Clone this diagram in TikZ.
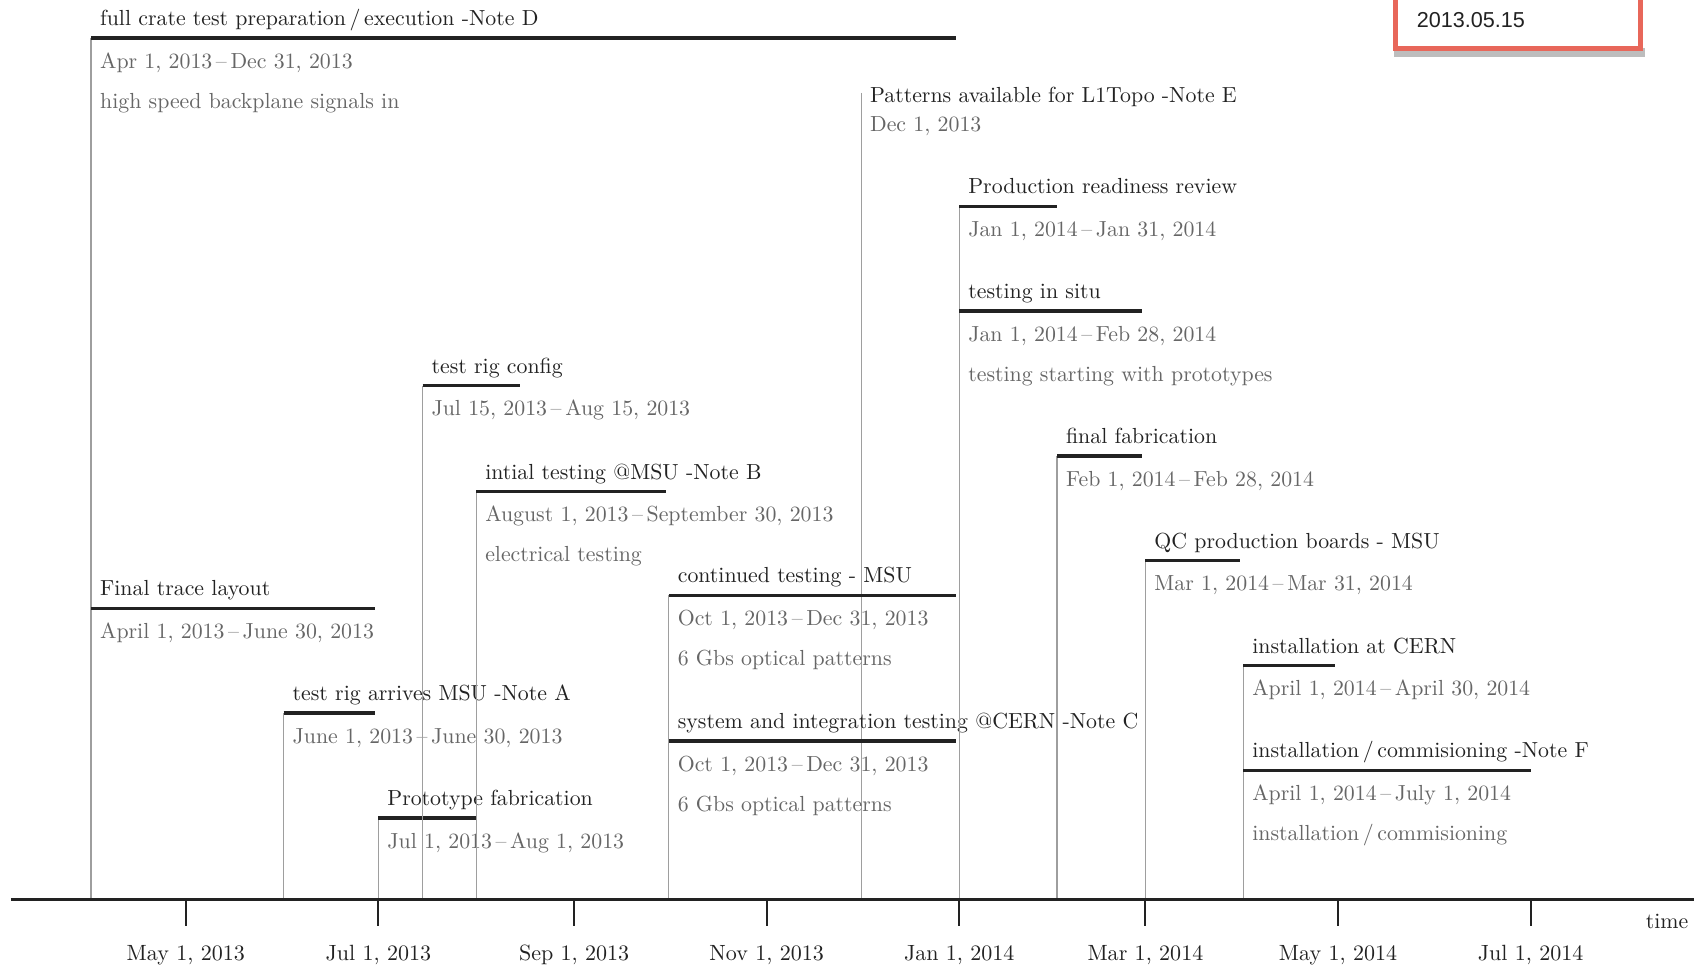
\documentclass[tikz,border=0pt]{standalone}
\usepackage{fontspec}
\newfontfamily\boxfont{Liberation Sans}
\usetikzlibrary{calc}
\definecolor{titlec}{HTML}{222222}
\definecolor{datec}{HTML}{666666}
\definecolor{barc}{HTML}{222222}
\definecolor{vlinec}{HTML}{9E9E9E}
\definecolor{boxred}{HTML}{E8675A}
\definecolor{shadowc}{HTML}{BDBDBD}
\tikzset{
  taskbar/.style={draw=barc, line width=1.6pt},
  vline/.style={draw=vlinec, line width=0.6pt},
  ttl/.style={anchor=base west, inner sep=0pt, text=titlec, font=\fontsize{10.1}{12}\selectfont},
  dat/.style={anchor=base west, inner sep=0pt, text=datec, font=\fontsize{10.1}{12}\selectfont},
  axisline/.style={draw=barc, line width=1.4pt},
  tickmark/.style={draw=barc, line width=0.9pt},
  ticklab/.style={anchor=base, inner sep=0pt, text=titlec, font=\fontsize{10.2}{12}\selectfont},
}
% name, x1, x2, y, title, dates
\newcommand\gtask[6]{%
  \coordinate (#1s) at (#2,#4);
  \coordinate (#1e) at (#3,#4);
  \coordinate (#1b) at (#2,833);
  \draw[vline] (#1s) -- (#1b);
  \draw[taskbar] (#1s) -- (#1e);
  \node[ttl] (#1t) at ($(#1s)+(8,-11.5)$) {#5};
  \node[dat] (#1d) at ($(#1s)+(8,28)$) {#6};
}
\newcommand\gdesc[2]{%
  \node[dat] (#1x) at ($(#1s)+(8,65)$) {#2};
}
\begin{document}
\begin{tikzpicture}[x=0.5pt,y=-0.5pt]
\clip (0,0) rectangle (1568,895);
\fill[white] (0,0) rectangle (1568,895);

% date box
\fill[shadowc] (1290,44) rectangle (1522.5,52.5);
\draw[boxred, line width=2.3pt, fill=white] (1291.9,-20) rectangle (1518.7,45.2);
\node[anchor=base west, inner sep=0pt, text=titlec, font=\boxfont\fontsize{10}{12}\selectfont] (stamp) at (1311,25.3) {2013.05.15};

% milestone
\coordinate (Is) at (797.3,86);
\coordinate (Ib) at (797.3,833);
\draw[vline] (Is) -- (Ib);
\node[ttl] (It) at (805,95) {Patterns available for L1Topo -Note E};
\node[dat] (Id) at (805,122) {Dec 1, 2013};

% tasks
\gtask{A}{84.3}{884.9}{35}{full crate test preparation\,/\,execution -Note D}{Apr 1, 2013\,--\,Dec 31, 2013}
\gdesc{A}{high speed backplane signals in}
\gtask{B}{84.3}{347.3}{563}{Final trace layout}{April 1, 2013\,--\,June 30, 2013}
\gtask{C}{262.5}{347.3}{660}{test rig arrives MSU -Note A}{June 1, 2013\,--\,June 30, 2013}
\gtask{D}{350.2}{440.8}{757}{Prototype fabrication}{Jul 1, 2013\,--\,Aug 1, 2013}
\gtask{E}{391.1}{481.7}{357}{test rig config}{Jul 15, 2013\,--\,Aug 15, 2013}
\gtask{F}{440.8}{616.1}{455}{intial testing @MSU -Note B}{August 1, 2013\,--\,September 30, 2013}
\gdesc{F}{electrical testing}
\gtask{G}{619.0}{884.9}{551}{continued testing - MSU}{Oct 1, 2013\,--\,Dec 31, 2013}
\gdesc{G}{6 Gbs optical patterns}
\gtask{H}{619.0}{884.9}{686}{system and integration testing @CERN -Note C}{Oct 1, 2013\,--\,Dec 31, 2013}
\gdesc{H}{6 Gbs optical patterns}
\gtask{J}{887.9}{978.4}{191}{Production readiness review}{Jan 1, 2014\,--\,Jan 31, 2014}
\gtask{K}{887.9}{1057.3}{288}{testing in situ}{Jan 1, 2014\,--\,Feb 28, 2014}
\gdesc{K}{testing starting with prototypes}
\gtask{L}{978.4}{1057.3}{422}{final fabrication}{Feb 1, 2014\,--\,Feb 28, 2014}
\gtask{M}{1060.2}{1147.9}{519}{QC production boards - MSU}{Mar 1, 2014\,--\,Mar 31, 2014}
\gtask{N}{1150.8}{1235.6}{616}{installation at CERN}{April 1, 2014\,--\,April 30, 2014}
\gtask{O}{1150.8}{1416.7}{713}{installation\,/\,commisioning -Note F}{April 1, 2014\,--\,July 1, 2014}
\gdesc{O}{installation\,/\,commisioning}

% axis
\coordinate (axL) at (10,833);
\coordinate (axR) at (1568,833);
\draw[axisline] (axL) -- (axR);
\foreach \xx/\lab [count=\i] in {172.0/{May 1, 2013},350.2/{Jul 1, 2013},531.4/{Sep 1, 2013},709.6/{Nov 1, 2013},887.9/{Jan 1, 2014},1060.2/{Mar 1, 2014},1238.5/{May 1, 2014},1416.7/{Jul 1, 2014}}{
  \coordinate (tk\i) at (\xx,833);
  \coordinate (tkb\i) at (\xx,857);
  \draw[tickmark] (tk\i) -- (tkb\i);
  \node[ticklab] (tl\i) at (\xx,889) {\lab};
}
\node[ttl] (timelab) at (1523,859) {time};
\end{tikzpicture}
\end{document}
